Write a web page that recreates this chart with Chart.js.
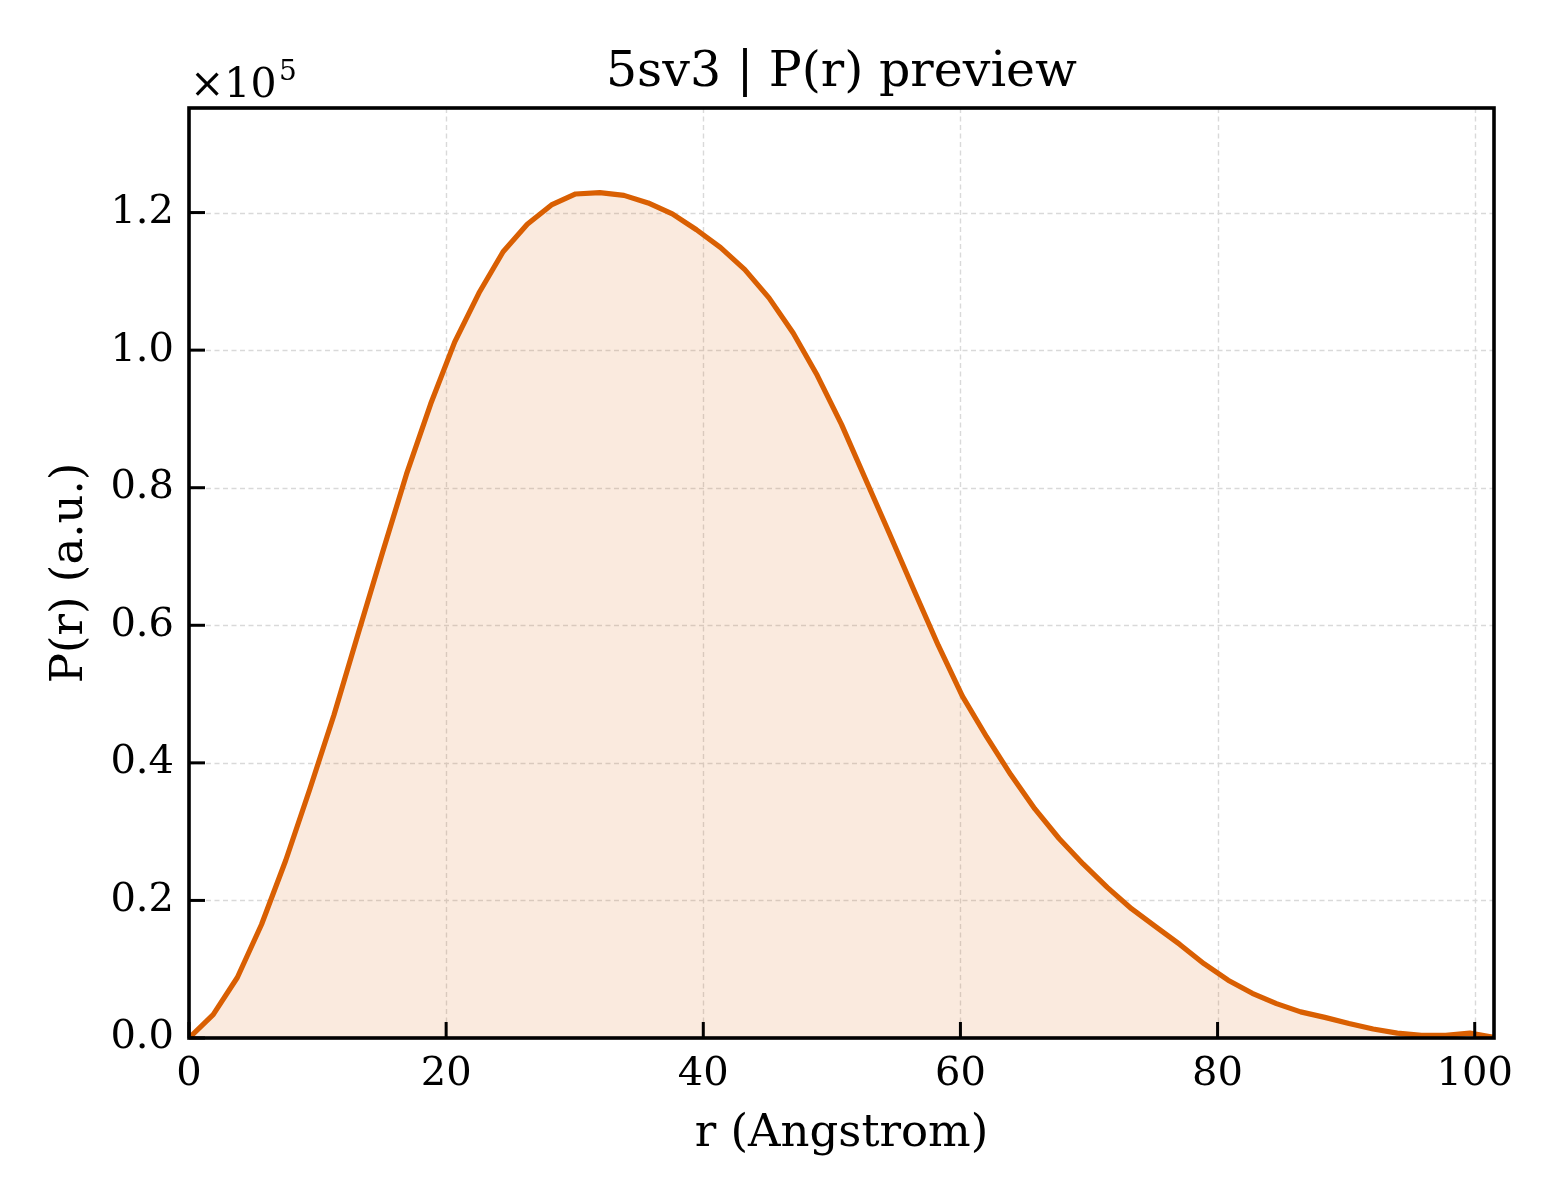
<!DOCTYPE html>
<html>
<head>
<meta charset="utf-8">
<script src="https://cdn.jsdelivr.net/npm/chart.js@4/dist/chart.umd.min.js"></script>
<style>
  html, body { margin: 0; padding: 0; background: #ffffff; }
  #wrap { width: 1560px; height: 1200px; }
</style>
</head>
<body>
<div id="wrap"><canvas id="c" width="1560" height="1200"></canvas></div>
<script>
// ---- data ----
const rMax = 101.5;
const rValues = [
  0.00, 1.88, 3.76, 5.64, 7.52, 9.40, 11.28, 13.16, 15.04, 16.92,
  18.80, 20.67, 22.55, 24.43, 26.31, 28.19, 30.07, 31.95, 33.83, 35.71,
  37.59, 39.47, 41.35, 43.23, 45.11, 46.99, 48.87, 50.75, 52.63, 54.51,
  56.39, 58.27, 60.15, 62.03, 63.91, 65.79, 67.67, 69.54, 71.42, 73.30,
  75.18, 77.06, 78.94, 80.82, 82.70, 84.58, 86.46, 88.34, 90.22, 92.10,
  93.98, 95.86, 97.74, 99.62, 101.50
];
const prValues = [
  0, 3400, 8800, 16500, 25800, 36200, 47000, 58800, 70500, 82000,
  92200, 101200, 108300, 114300, 118300, 121100, 122700, 122900, 122500, 121400,
  119800, 117500, 114900, 111700, 107600, 102500, 96300, 89200, 81200, 73200,
  65100, 57100, 49700, 43800, 38300, 33300, 29000, 25300, 21900, 18800,
  16200, 13600, 10800, 8400, 6500, 5000, 3800, 3000, 2100, 1300,
  700, 400, 400, 700, 100
];
const xTickValues = [0, 20, 40, 60, 80, 100];
const yTickValues = [0, 20000, 40000, 60000, 80000, 100000, 120000];
const yMax = 135200;
const titleText = "5sv3 | P(r) preview";
const xLabel = "r (Angstrom)";
const yLabel = "P(r) (a.u.)";

const FONT = '"DejaVu Serif", "Liberation Serif", serif';
const lineColor = '#d95f02';

const points = rValues.map((r, i) => ({ x: r, y: prValues[i] }));

const framePlugin = {
  id: 'frame',
  beforeDatasetsDraw(chart) {
    const { ctx, chartArea: a, scales: { x, y } } = chart;
    ctx.save();
    ctx.strokeStyle = '#d9d9d9';
    ctx.lineWidth = 1.4;
    ctx.setLineDash([5, 3.5]);
    xTickValues.forEach(v => {
      const px = Math.round(x.getPixelForValue(v)) + 0.5;
      if (px <= a.left + 2 || px >= a.right - 2) return;
      ctx.beginPath(); ctx.moveTo(px, a.top); ctx.lineTo(px, a.bottom); ctx.stroke();
    });
    yTickValues.forEach(v => {
      const py = Math.round(y.getPixelForValue(v)) + 0.5;
      if (py >= a.bottom - 2 || py <= a.top + 2) return;
      ctx.beginPath(); ctx.moveTo(a.left, py); ctx.lineTo(a.right, py); ctx.stroke();
    });
    ctx.restore();
  },
  afterDraw(chart) {
    const { ctx, chartArea: a, scales: { x, y } } = chart;
    ctx.save();
    // ticks (inward)
    ctx.strokeStyle = '#000';
    ctx.lineWidth = 3;
    ctx.setLineDash([]);
    xTickValues.forEach(v => {
      const px = x.getPixelForValue(v);
      ctx.beginPath(); ctx.moveTo(px, a.bottom); ctx.lineTo(px, a.bottom - 16); ctx.stroke();
    });
    yTickValues.forEach(v => {
      const py = y.getPixelForValue(v);
      ctx.beginPath(); ctx.moveTo(a.left, py); ctx.lineTo(a.left + 16, py); ctx.stroke();
    });
    // spines
    ctx.lineWidth = 3.6;
    ctx.strokeRect(a.left, a.top, a.right - a.left, a.bottom - a.top);

    // title
    ctx.fillStyle = '#000';
    ctx.textAlign = 'center';
    ctx.textBaseline = 'alphabetic';
    ctx.font = '49px ' + FONT;
    ctx.fillText(titleText, (a.left + a.right) / 2, 86);
    // x label
    ctx.font = '45px ' + FONT;
    ctx.fillText(xLabel, (a.left + a.right) / 2, 1146);
    // y label
    ctx.save();
    ctx.translate(82, (a.top + a.bottom) / 2);
    ctx.rotate(-Math.PI / 2);
    ctx.fillText(yLabel, 0, 0);
    ctx.restore();
    // offset text x10^5
    ctx.textAlign = 'left';
    ctx.font = '41px ' + FONT;
    ctx.fillText('\u00d710', 190, 97);
    ctx.font = '28px ' + FONT;
    ctx.fillText('5', 279, 80);
    ctx.restore();
  }
};

new Chart(document.getElementById('c'), {
  type: 'line',
  data: {
    datasets: [{
      data: points,
      borderColor: lineColor,
      borderWidth: 5.2,
      backgroundColor: 'rgba(217,95,2,0.13)',
      fill: 'origin',
      pointRadius: 0,
      tension: 0,
      borderJoinStyle: 'round',
      borderCapStyle: 'round'
    }]
  },
  options: {
    responsive: false,
    devicePixelRatio: 1,
    animation: false,
    events: [],
    layout: { padding: { top: 108, right: 66, left: 0, bottom: 0 } },
    plugins: { legend: { display: false }, tooltip: { enabled: false }, title: { display: false } },
    scales: {
      x: {
        type: 'linear',
        min: 0,
        max: rMax,
        grid: { display: false, drawTicks: false },
        border: { display: false },
        afterBuildTicks: s => { s.ticks = xTickValues.map(v => ({ value: v })); },
        afterFit: s => { s.height = 162; },
        ticks: {
          padding: 13,
          color: '#000',
          maxRotation: 0,
          font: { family: FONT, size: 40 },
          callback: v => String(v)
        }
      },
      y: {
        type: 'linear',
        min: 0,
        max: yMax,
        grid: { display: false, drawTicks: false },
        border: { display: false },
        afterBuildTicks: s => { s.ticks = yTickValues.map(v => ({ value: v })); },
        afterFit: s => { s.width = 189; },
        ticks: {
          padding: 15,
          color: '#000',
          font: { family: FONT, size: 40 },
          callback: v => (v / 1e5).toFixed(1)
        }
      }
    }
  },
  plugins: [framePlugin]
});
</script>
</body>
</html>
